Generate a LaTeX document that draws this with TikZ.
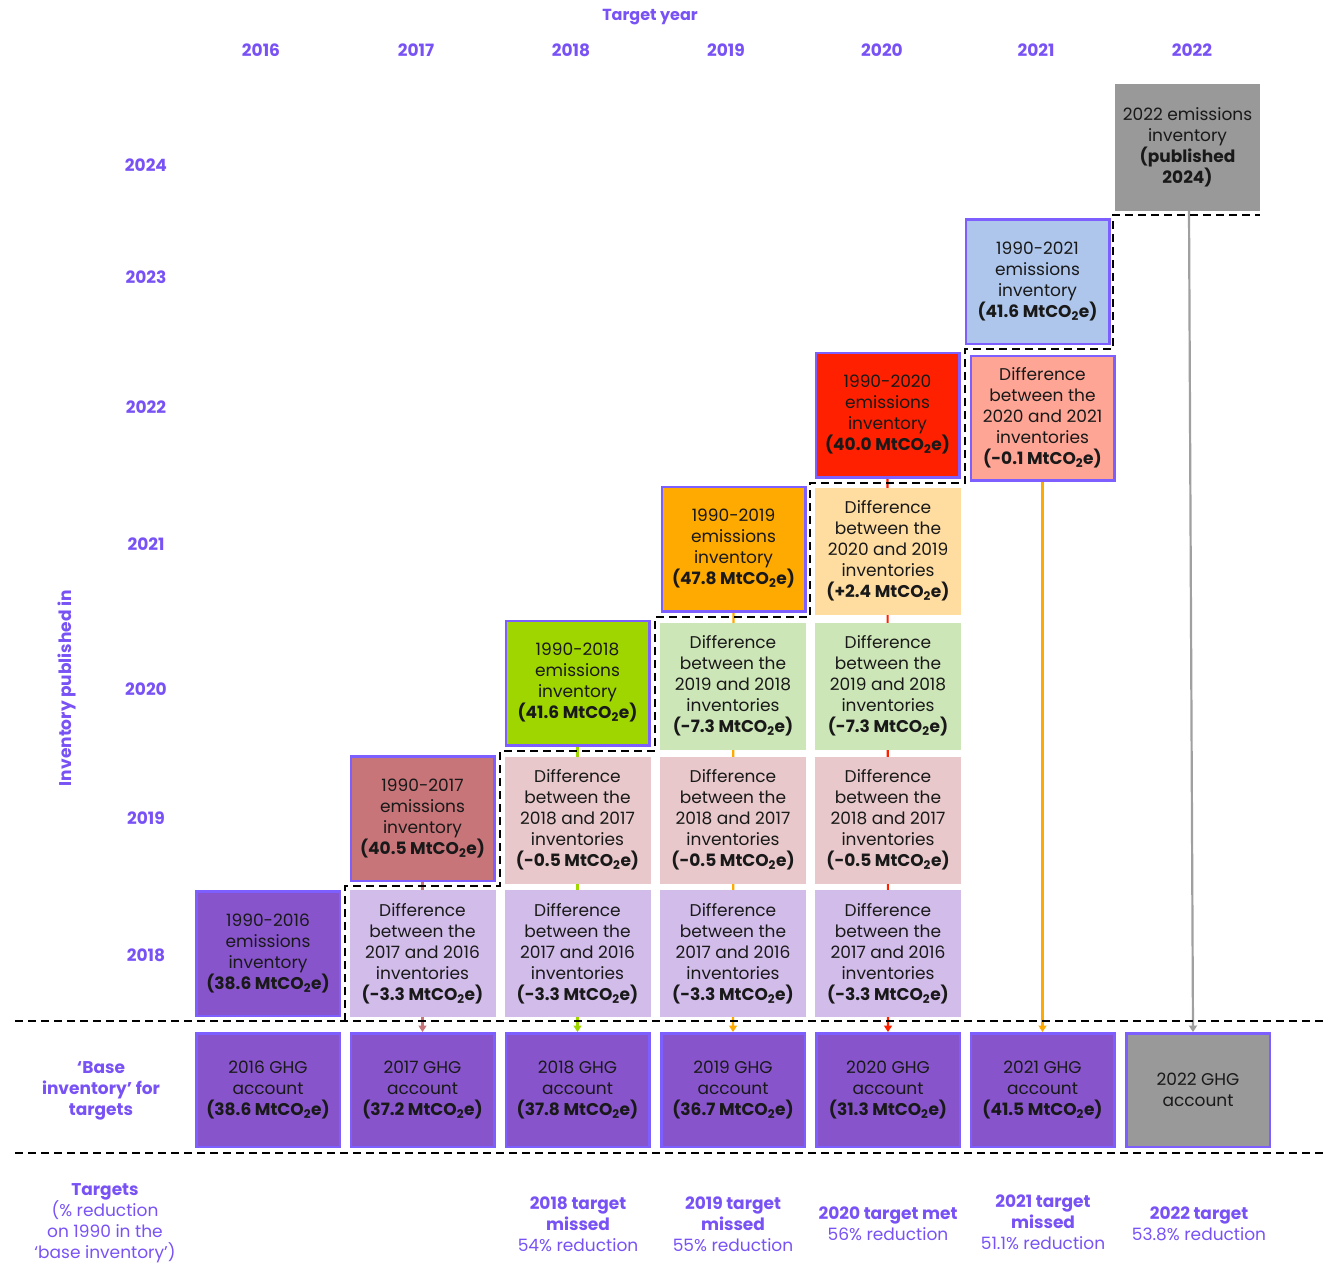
\documentclass[tikz,border=0pt]{standalone}
\usepackage{fontspec}
\setmainfont{Poppins}
\usetikzlibrary{arrows.meta,backgrounds}

\definecolor{violettext}{RGB}{120,82,245}
\definecolor{boxedge}{RGB}{125,95,255}
\definecolor{ghgfill}{RGB}{136,84,204}
\definecolor{inv17fill}{RGB}{200,117,122}
\definecolor{inv18fill}{RGB}{160,214,0}
\definecolor{inv19fill}{RGB}{255,170,0}
\definecolor{inv20fill}{RGB}{255,32,0}
\definecolor{inv21fill}{RGB}{174,198,236}
\definecolor{greyfill}{RGB}{153,153,153}
\definecolor{diff17}{RGB}{210,188,234}
\definecolor{diff18}{RGB}{232,200,202}
\definecolor{diff19}{RGB}{205,230,184}
\definecolor{diff20}{RGB}{255,221,160}
\definecolor{diff21}{RGB}{255,165,149}
\definecolor{greyline}{RGB}{160,160,160}

\newcommand{\mtco}{MtCO\textsubscript{2}e}
\newcommand{\difftext}[3]{Difference\\between the\\#1 and #2\\inventories\\\textbf{(#3 \mtco)}}

\begin{document}
\begin{tikzpicture}
  [x=1pt, y=-1pt,
    every node/.style={font=\fontsize{17}{21}\selectfont, align=center, text=black!90},
    box/.style={rectangle, minimum width=146pt, minimum height=127pt, inner sep=0pt},
    inv/.style={box, draw=boxedge, line width=2.5pt,
      minimum width=143.5pt, minimum height=124.5pt},
    ghg/.style={box, draw=boxedge, fill=ghgfill, line width=2.5pt,
      minimum width=143.5pt, minimum height=113.5pt},
    yearlabel/.style={text=violettext, font=\fontsize{17}{21}\selectfont\bfseries},
    targettext/.style={text=violettext},
    link/.style={line width=2.2pt, -{Triangle[width=8pt,length=6.5pt]}},
    divider/.style={line width=2.4pt, dash pattern=on 8pt off 5pt},
  ]
  \useasboundingbox (0,0) rectangle (1324,1266);

  % Axis labels
  \node[yearlabel, font=\fontsize{16}{20}\selectfont\bfseries] (target) at (650,17) {Target year};
  \node[yearlabel] (c16) at (261,50) {2016};
  \node[yearlabel] (c17) at (416,50) {2017};
  \node[yearlabel] (c18) at (571,50) {2018};
  \node[yearlabel] (c19) at (726,50) {2019};
  \node[yearlabel] (c20) at (882,50) {2020};
  \node[yearlabel] (c21) at (1036,50) {2021};
  \node[yearlabel] (c22) at (1192,50) {2022};

  \node[yearlabel] (r24) at (146,165) {2024};
  \node[yearlabel] (r23) at (146,277) {2023};
  \node[yearlabel] (r22) at (146,407) {2022};
  \node[yearlabel] (r21) at (146,544) {2021};
  \node[yearlabel] (r20) at (146,689) {2020};
  \node[yearlabel] (r19) at (146,818) {2019};
  \node[yearlabel] (r18) at (146,955) {2018};
  \node[yearlabel, rotate=90] (pubin) at (67,688) {Inventory published in};

  % Inventories
  \node[inv, fill=ghgfill] (inv16) at (268,953.5) {1990-2016\\emissions\\inventory\\\textbf{(38.6 \mtco)}};
  \node[inv, fill=inv17fill] (inv17) at (422.5,818.5) {1990-2017\\emissions\\inventory\\\textbf{(40.5 \mtco)}};
  \node[inv, fill=inv18fill] (inv18) at (577.5,683) {1990-2018\\emissions\\inventory\\\textbf{(41.6 \mtco)}};
  \node[inv, fill=inv19fill] (inv19) at (733.5,549) {1990-2019\\emissions\\inventory\\\textbf{(47.8 \mtco)}};
  \node[inv, fill=inv20fill] (inv20) at (887.5,415) {1990-2020\\emissions\\inventory\\\textbf{(40.0 \mtco)}};
  \node[inv, fill=inv21fill] (inv21) at (1037.5,281.5) {1990-2021\\emissions\\inventory\\\textbf{(41.6 \mtco)}};
  \node[box, fill=greyfill, minimum width=145pt] (inv22) at (1187.5,147.5) {2022 emissions\\inventory\\\textbf{(published}\\\textbf{2024)}};

  % Differences between inventories
  \node[box, fill=diff17] (d17a) at (422.5,953.5) {\difftext{2017}{2016}{-3.3}};
  \node[box, fill=diff17] (d18a) at (577.5,953.5) {\difftext{2017}{2016}{-3.3}};
  \node[box, fill=diff18] (d18b) at (577.5,820) {\difftext{2018}{2017}{-0.5}};
  \node[box, fill=diff17] (d19a) at (733,953.5) {\difftext{2017}{2016}{-3.3}};
  \node[box, fill=diff18] (d19b) at (733,820) {\difftext{2018}{2017}{-0.5}};
  \node[box, fill=diff19] (d19c) at (733,686) {\difftext{2019}{2018}{-7.3}};
  \node[box, fill=diff17] (d20a) at (888,953.5) {\difftext{2017}{2016}{-3.3}};
  \node[box, fill=diff18] (d20b) at (888,820) {\difftext{2018}{2017}{-0.5}};
  \node[box, fill=diff19] (d20c) at (888,686) {\difftext{2019}{2018}{-7.3}};
  \node[box, fill=diff20] (d20d) at (888,551) {\difftext{2020}{2019}{+2.4}};
  \node[inv, fill=diff21] (d21) at (1042.5,418) {\difftext{2020}{2021}{-0.1}};

  % GHG accounts
  \node[ghg] (g16) at (268,1090) {2016 GHG\\account\\\textbf{(38.6 \mtco)}};
  \node[ghg] (g17) at (422.5,1090) {2017 GHG\\account\\\textbf{(37.2 \mtco)}};
  \node[ghg] (g18) at (577.5,1090) {2018 GHG\\account\\\textbf{(37.8 \mtco)}};
  \node[ghg] (g19) at (733,1090) {2019 GHG\\account\\\textbf{(36.7 \mtco)}};
  \node[ghg] (g20) at (888,1090) {2020 GHG\\account\\\textbf{(31.3 \mtco)}};
  \node[ghg] (g21) at (1042.5,1090) {2021 GHG\\account\\\textbf{(41.5 \mtco)}};
  \node[ghg, fill=greyfill] (g22) at (1198,1090) {2022 GHG\\account};

  % Links from inventory to account (behind the boxes)
  \begin{pgfonlayer}{background}
    \draw[link, inv17fill] (inv17.south) -- (g17.north);
    \draw[link, inv18fill] (inv18.south) -- (g18.north);
    \draw[link, inv19fill] (inv19.south) -- (g19.north);
    \draw[link, inv20fill] (inv20.south) -- (g20.north);
    \draw[link, inv19fill] (d21.south) -- (g21.north);
    \draw[link, greyline] ([xshift=1.5pt]inv22.south) -- ([xshift=-5pt]g22.north);
  \end{pgfonlayer}

  % Dashed dividers
  \draw[divider] (15,1021) -- (1324,1021);
  \draw[divider] (15,1153) -- (1324,1153);
  \draw[divider] (345,1021) |- (500,886) |- (655,751) |- (810,617)
    |- (965,483) |- (1113,349) |- (1260,215);

  % Row labels and targets
  \node[yearlabel] (base) at (101,1091) {‘Base\\inventory’ for\\targets};
  \node[targettext] (targets) at (105,1223.5) {\textbf{Targets}\\(\% reduction\\on 1990 in the\\‘base inventory’)};
  \node[targettext] (t18) at (578,1224) {\textbf{2018 target}\\\textbf{missed}\\54\% reduction};
  \node[targettext] (t19) at (733,1224) {\textbf{2019 target}\\\textbf{missed}\\55\% reduction};
  \node[targettext] (t20) at (888,1223.5) {\textbf{2020 target met}\\56\% reduction};
  \node[targettext] (t21) at (1043,1222) {\textbf{2021 target}\\\textbf{missed}\\51.1\% reduction};
  \node[targettext] (t22) at (1199,1223.5) {\textbf{2022 target}\\53.8\% reduction};
\end{tikzpicture}
\end{document}
